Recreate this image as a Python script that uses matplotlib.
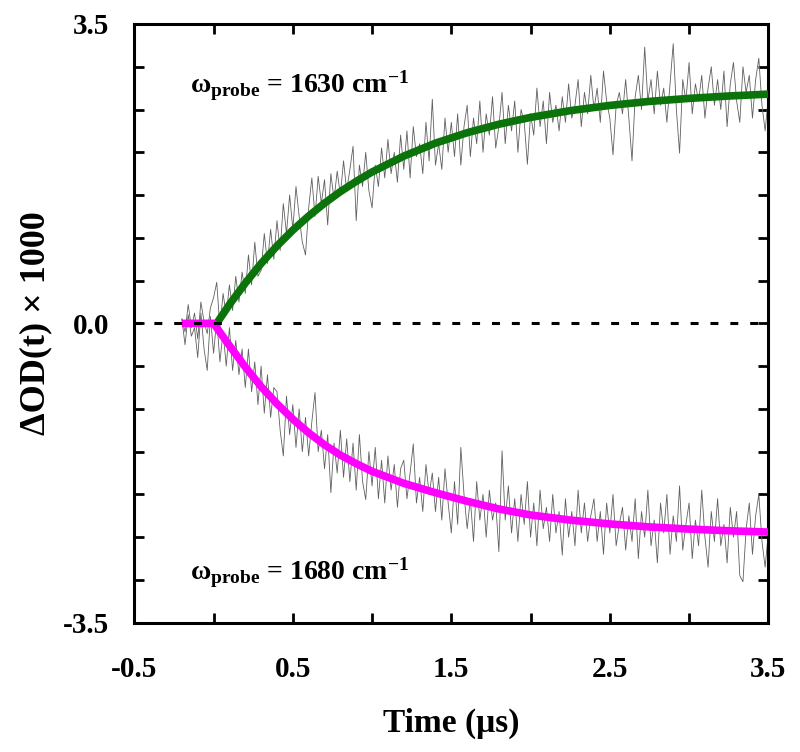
import numpy as np
import matplotlib
matplotlib.use("Agg")
import matplotlib.pyplot as plt

plt.rcParams['font.family'] = ['Liberation Serif', 'DejaVu Serif']
plt.rcParams['font.weight'] = 'bold'
plt.rcParams['mathtext.fontset'] = 'custom'
plt.rcParams['mathtext.rm'] = 'Liberation Serif:bold'
plt.rcParams['mathtext.it'] = 'Liberation Serif:bold'
plt.rcParams['mathtext.bf'] = 'Liberation Serif:bold'

# ---- raw transients (0.02 us steps from -0.2 to 3.5) ----
t_raw = np.linspace(-0.2, 3.5, 186)

raw_1630 = [
    0.05, -0.10, 0.22, -0.05, 0.12, -0.18, 0.25, 0.02, -0.12, 0.18,
    0.30, 0.48, -0.05, 0.35, 0.10, 0.45, 0.15, 0.55, 0.25, 0.60,
    0.35, 0.80, 0.45, 0.95, 0.55, 0.62, 1.05, 0.70, 1.10, 0.75,
    1.20, 0.85, 1.40, 1.05, 1.50, 1.10, 1.60, 1.25, 0.95, 0.80,
    1.35, 1.70, 1.25, 1.72, 1.40, 1.68, 1.15, 1.75, 1.45, 1.78,
    1.50, 1.90, 1.55, 1.80, 2.07, 1.20, 1.85, 1.60, 2.00, 1.55,
    1.35, 1.85, 1.60, 2.05, 1.70, 2.15, 1.75, 2.00, 1.65, 2.20,
    1.80, 2.25, 1.70, 2.30, 1.95, 2.10, 1.75, 2.35, 1.90, 2.62,
    1.85, 2.10, 1.80, 2.40, 2.00, 2.35, 1.95, 2.45, 1.85, 2.30,
    2.55, 1.95, 2.40, 2.10, 2.60, 2.00, 2.45, 2.20, 2.65, 2.05,
    2.30, 2.70, 2.10, 2.55, 2.25, 2.60, 2.00, 2.50, 2.35, 1.86,
    2.45, 2.20, 2.75, 2.30, 2.60, 2.10, 2.70, 2.35, 2.55, 2.25,
    2.65, 2.35, 2.80, 2.40, 2.55, 2.85, 2.30, 2.70, 2.45, 2.90,
    2.50, 2.75, 2.35, 2.95, 2.60, 2.40, 1.97, 2.55, 2.70, 2.45,
    2.85, 2.40, 1.90, 2.65, 2.90, 2.50, 3.23, 2.60, 2.85, 2.45,
    2.95, 2.55, 2.75, 2.35, 2.80, 3.27, 2.50, 1.99, 2.85, 2.60,
    3.05, 2.45, 2.80, 2.60, 2.90, 2.40, 2.75, 3.00, 2.55, 2.85,
    2.50, 2.95, 2.30, 2.80, 3.05, 2.60, 2.35, 3.00, 2.70, 2.90,
    2.40, 2.85, 3.10, 2.55, 2.25, 2.65,
]

raw_1680 = [
    0.05, -0.25, 0.10, -0.15, -0.05, -0.40, 0.12, -0.30, -0.55, 0.08,
    -0.35, 0.05, -0.45, -0.10, -0.50, -0.05, -0.55, -0.20, -0.60, -0.30,
    -0.75, -0.30, -0.80, -0.45, -0.95, -0.50, -1.05, -0.60, -1.10, -0.75,
    -0.80, -1.25, -1.55, -0.85, -1.30, -0.95, -1.45, -1.00, -1.50, -1.10,
    -1.55, -1.15, -0.81, -1.50, -1.25, -1.70, -1.30, -1.98, -1.40, -1.75,
    -1.25, -1.80, -1.35, -1.85, -1.40, -1.95, -1.30, -1.85, -2.06, -1.50,
    -1.90, -1.45, -2.05, -1.60, -2.10, -1.55, -1.95, -1.65, -2.15, -1.70,
    -1.60, -2.05, -1.75, -1.41, -2.10, -1.80, -2.20, -1.65, -2.00, -1.75,
    -2.20, -1.80, -2.30, -1.70, -2.10, -2.45, -1.85, -2.35, -1.45, -2.00,
    -2.40, -2.05, -2.55, -1.85, -2.30, -2.00, -2.50, -1.95, -2.30, -2.10,
    -2.67, -1.49, -2.30, -1.90, -2.45, -2.05, -2.55, -2.00, -2.35, -1.85,
    -2.50, -2.10, -2.60, -1.95, -2.40, -2.15, -2.55, -2.00, -2.45, -2.20,
    -2.71, -2.05, -2.50, -2.20, -2.60, -1.95, -2.45, -2.10, -2.55, -2.25,
    -2.05, -2.55, -2.20, -2.70, -2.10, -2.45, -2.00, -2.60, -2.35, -2.15,
    -2.65, -2.25, -2.55, -2.05, -2.75, -2.20, -2.50, -1.95, -2.60, -2.30,
    -2.80, -2.10, -2.45, -2.00, -2.70, -2.25, -2.55, -1.90, -2.65, -2.35,
    -2.10, -2.75, -2.30, -2.60, -1.95, -2.50, -2.85, -2.20, -2.55, -2.05,
    -2.60, -2.35, -2.80, -2.15, -2.50, -2.20, -2.95, -3.02, -2.40, -2.10,
    -2.70, -2.25, -2.00, -2.55, -2.85, -2.45,
]

# ---- fitted curves ----
t_fit_1630 = [0.02, 0.1, 0.2, 0.3, 0.4, 0.5, 0.6, 0.7, 0.8, 0.9, 1.0,
              1.2, 1.4, 1.6, 1.8, 2.0, 2.25, 2.5, 2.75, 3.0, 3.25, 3.5]
fit_1630 = [0.0, 0.22, 0.47, 0.70, 0.905, 1.09, 1.255, 1.405, 1.54, 1.66, 1.77,
            1.955, 2.107, 2.229, 2.328, 2.408, 2.487, 2.548, 2.595, 2.63, 2.658, 2.68]

t_fit_1680 = [-0.2, 0.0, 0.1, 0.2, 0.3, 0.4, 0.5, 0.6, 0.7, 0.8, 0.9, 1.0,
              1.2, 1.4, 1.6, 1.8, 2.0, 2.25, 2.5, 2.75, 3.0, 3.25, 3.5]
fit_1680 = [0.0, 0.0, -0.26, -0.51, -0.74, -0.94, -1.12, -1.28, -1.42, -1.54, -1.64, -1.73,
            -1.87, -1.98, -2.08, -2.17, -2.24, -2.30, -2.345, -2.38, -2.405, -2.425, -2.44]

xticks = [-0.5, 0.0, 0.5, 1.0, 1.5, 2.0, 2.5, 3.0, 3.5]
xtick_labels = ['-0.5', '', '0.5', '', '1.5', '', '2.5', '', '3.5']
yticks = [-3.5, -3.0, -2.5, -2.0, -1.5, -1.0, -0.5, 0.0, 0.5, 1.0, 1.5, 2.0, 2.5, 3.0, 3.5]
ytick_labels = ['-3.5', '', '', '', '', '', '', '0.0', '', '', '', '', '', '', '3.5']

fig = plt.figure(figsize=(8, 7.52), dpi=100)
ax = fig.add_axes([0.1679, 0.1719, 0.7925, 0.7962])

ax.plot(t_raw, raw_1630, color='#606060', lw=0.6, zorder=2)
ax.plot(t_raw, raw_1680, color='#606060', lw=0.6, zorder=2)
ax.plot(t_fit_1630, fit_1630, color='#0a730a', lw=5.5, solid_capstyle='butt', zorder=3)
ax.plot(t_fit_1680, fit_1680, color='#ff00ff', lw=5.5, solid_capstyle='butt', zorder=3)
ax.axhline(0, color='black', lw=2.2, dashes=(2.6, 3.9), zorder=4)

ax.text(-0.15, 2.70, r'$\omega_{\mathrm{probe}}$ = 1630 cm$^{\mathrm{-1}}$',
        fontsize=20, fontweight='bold', ha='left', va='baseline')
ax.text(-0.15, -3.00, r'$\omega_{\mathrm{probe}}$ = 1680 cm$^{\mathrm{-1}}$',
        fontsize=20, fontweight='bold', ha='left', va='baseline')

ax.set_xlim(-0.5, 3.5)
ax.set_ylim(-3.5, 3.5)
ax.set_xticks(xticks)
ax.set_xticklabels(xtick_labels)
ax.set_yticks(yticks)
ax.set_yticklabels(ytick_labels)
ax.tick_params(direction='in', length=7, width=2, top=True, right=True, labelsize=21)
ax.tick_params(axis='x', pad=24)
ax.tick_params(axis='y', pad=18)
for s in ax.spines.values():
    s.set_linewidth(2.2)

ax.set_xlabel('Time (μs)', fontsize=24, fontweight='bold', labelpad=18)
ax.set_ylabel('ΔOD(t) × 1000', fontsize=26, fontweight='bold', labelpad=8)

fig.savefig('out.png', dpi=100)
plt.close('all')
